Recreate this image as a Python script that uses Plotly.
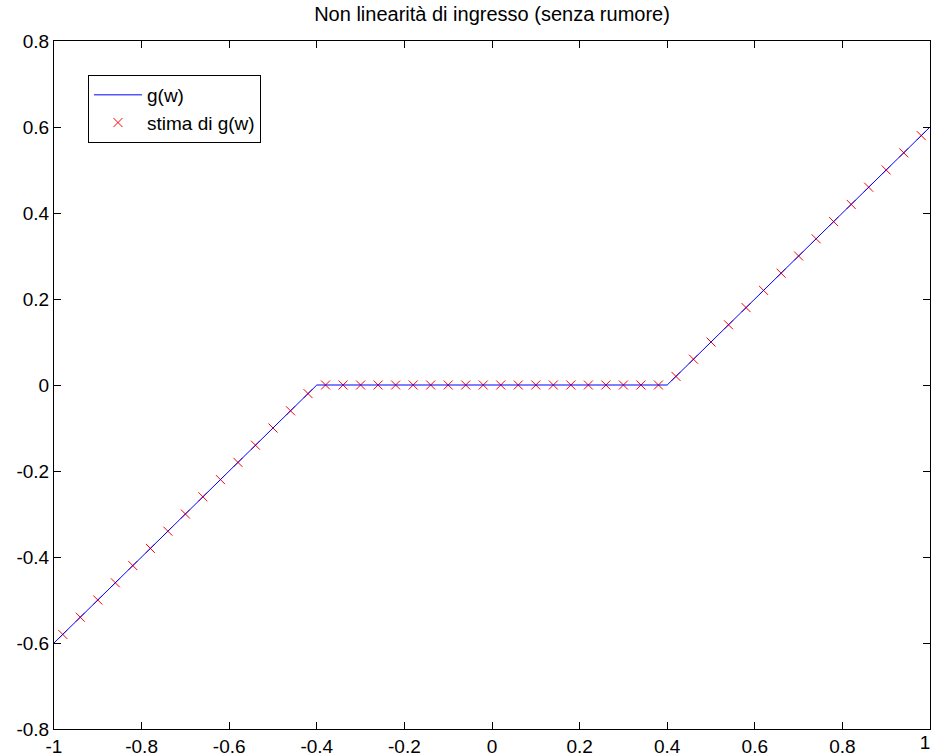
import plotly.graph_objects as go

# g(w): dead-zone nonlinearity, drawn through its breakpoints
w_line = [-1.0, -0.4, 0.4, 1.0]
g_line = [-0.6, 0.0, 0.0, 0.6]

# estimated samples of g(w)
w_est = [-0.98, -0.94, -0.90, -0.86, -0.82, -0.78, -0.74, -0.70, -0.66, -0.62,
         -0.58, -0.54, -0.50, -0.46, -0.42, -0.38, -0.34, -0.30, -0.26, -0.22,
         -0.18, -0.14, -0.10, -0.06, -0.02, 0.02, 0.06, 0.10, 0.14, 0.18,
         0.22, 0.26, 0.30, 0.34, 0.38, 0.42, 0.46, 0.50, 0.54, 0.58,
         0.62, 0.66, 0.70, 0.74, 0.78, 0.82, 0.86, 0.90, 0.94, 0.98]
g_est = [-0.58, -0.54, -0.50, -0.46, -0.42, -0.38, -0.34, -0.30, -0.26, -0.22,
         -0.18, -0.14, -0.10, -0.06, -0.02, 0.0, 0.0, 0.0, 0.0, 0.0,
         0.0, 0.0, 0.0, 0.0, 0.0, 0.0, 0.0, 0.0, 0.0, 0.0,
         0.0, 0.0, 0.0, 0.0, 0.0, 0.02, 0.06, 0.10, 0.14, 0.18,
         0.22, 0.26, 0.30, 0.34, 0.38, 0.42, 0.46, 0.50, 0.54, 0.58]

x_ticks = [-1, -0.8, -0.6, -0.4, -0.2, 0, 0.2, 0.4, 0.6, 0.8, 1]
x_ticktext = ["-1", "-0.8", "-0.6", "-0.4", "-0.2", "0", "0.2", "0.4", "0.6", "0.8", "1"]
y_ticks = [-0.8, -0.6, -0.4, -0.2, 0, 0.2, 0.4, 0.6, 0.8]
y_ticktext = ["-0.8", "-0.6", "-0.4", "-0.2", "0", "0.2", "0.4", "0.6", "0.8"]

FONT = "Liberation Sans, Arial, sans-serif"

fig = go.Figure()
# the curve lives on the overlaying x axis (same scale as the main one)
fig.add_trace(go.Scatter(
    x=w_line, y=g_line, mode="lines", name="g(w)",
    line=dict(color="#0000ff", width=1), xaxis="x2", yaxis="y",
))
fig.add_trace(go.Scatter(
    x=w_est, y=g_est, mode="markers", name="stima di g(w)",
    marker=dict(symbol="x-thin", size=9, color="#ff0000",
                line=dict(color="#ff0000", width=1)),
))

tick_font = dict(family=FONT, size=19, color="black")
axis_common = dict(
    showgrid=False, zeroline=False, showline=True, linecolor="black",
    linewidth=1, mirror="ticks", ticks="inside", ticklen=7, tickcolor="black",
    automargin=False, tickfont=tick_font,
)

# the label of the last x tick sits on the page edge; it is drawn by the
# overlaying axis, nudged a few pixels left so it stays on the page
main_labels = x_ticktext[:-1] + [""]

fig.update_layout(
    width=931, height=756,
    margin=dict(l=54, r=1, t=41, b=27),
    paper_bgcolor="white", plot_bgcolor="white",
    title=dict(text="Non linearità di ingresso (senza rumore)",
               x=(54 + 930) / 2 / 931, xanchor="center", y=1 - 14 / 756, yanchor="middle",
               font=dict(family=FONT, size=20, color="black")),
    xaxis=dict(range=[-1, 1], tickvals=x_ticks, ticktext=main_labels, **axis_common),
    xaxis2=dict(range=[-1, 1], overlaying="x", anchor="y", side="bottom",
                showgrid=False, zeroline=False, showline=False,
                ticks="", tickvals=x_ticks[-1:], ticktext=x_ticktext[-1:],
                ticklabelshift=-5, ticklabeloverflow="allow",
                automargin=False, tickfont=tick_font),
    yaxis=dict(range=[-0.8, 0.8], tickvals=y_ticks, ticktext=y_ticktext, **axis_common),
    legend=dict(x=0.0388, y=0.9506, xanchor="left", yanchor="top",
                bgcolor="white", bordercolor="black", borderwidth=1,
                font=dict(family=FONT, size=19, color="black"),
                tracegroupgap=0, itemwidth=48),
    showlegend=True,
)

fig.write_html("out.html")
